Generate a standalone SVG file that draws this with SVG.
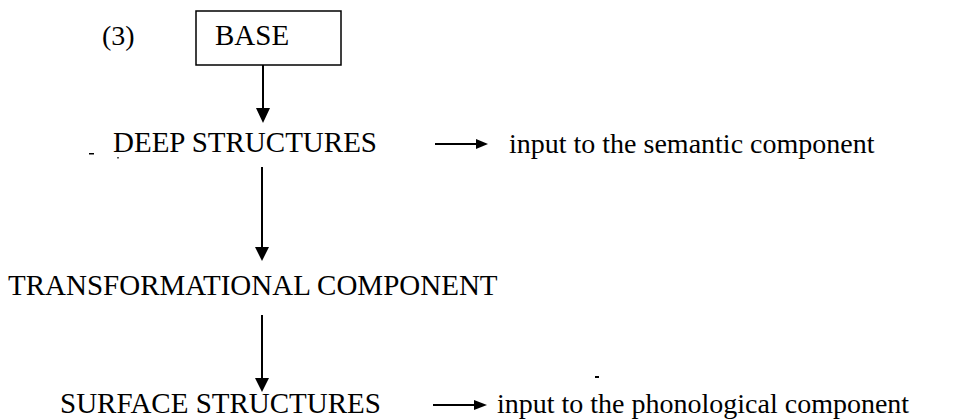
<svg xmlns="http://www.w3.org/2000/svg" width="955" height="420" viewBox="0 0 955 420">
  <style>
    text { font-family: "Liberation Serif", "Times New Roman", serif; font-size: 28px; fill: #000; }
    .caps { font-size: 29px; }
    .edge { stroke: #000; stroke-width: 2; fill: none; }
    .head { fill: #000; stroke: none; }
  </style>
  <rect width="955" height="420" fill="#fff"/>

  <g id="label-3">
    <text x="102" y="45">(3)</text>
  </g>
  <g id="base">
    <rect x="196" y="11" width="145" height="54" fill="#fff" stroke="#000" stroke-width="1.5"/>
    <text class="caps" x="215" y="45">BASE</text>
  </g>
  <g id="deep-structures">
    <text class="caps" x="113" y="152">DEEP STRUCTURES</text>
    <rect x="89" y="153" width="5" height="1.5" fill="#000"/>
    <rect x="117" y="157" width="2" height="1.5" fill="#555"/>
  </g>
  <g id="semantic">
    <text x="509" y="153">input to the semantic component</text>
  </g>
  <g id="transformational">
    <text class="caps" x="8" y="295">TRANSFORMATIONAL COMPONENT</text>
  </g>
  <g id="surface-structures">
    <text class="caps" x="60" y="413">SURFACE STRUCTURES</text>
  </g>
  <g id="phonological">
    <text x="497" y="413">input to the phonological component</text>
    <rect x="595" y="376" width="4" height="2" fill="#000"/>
  </g>

  <g id="connectors">
    <!-- base to deep structures -->
    <line class="edge" x1="263" y1="65" x2="263" y2="110"/>
    <polygon class="head" points="256,108 270,108 263,123"/>
    <!-- deep structures to transformational component -->
    <line class="edge" x1="262" y1="167" x2="262" y2="249"/>
    <polygon class="head" points="255,247 269,247 262,261"/>
    <!-- transformational component to surface structures -->
    <line class="edge" x1="262" y1="315" x2="262" y2="380"/>
    <polygon class="head" points="255,378 269,378 262,392"/>
    <!-- deep structures to semantic component -->
    <line class="edge" x1="435" y1="144" x2="478" y2="144"/>
    <polygon class="head" points="476,139 488,144 476,149"/>
    <!-- surface structures to phonological component -->
    <line class="edge" x1="433" y1="405" x2="476" y2="405"/>
    <polygon class="head" points="474,400 487,405 474,410"/>
  </g>
</svg>
